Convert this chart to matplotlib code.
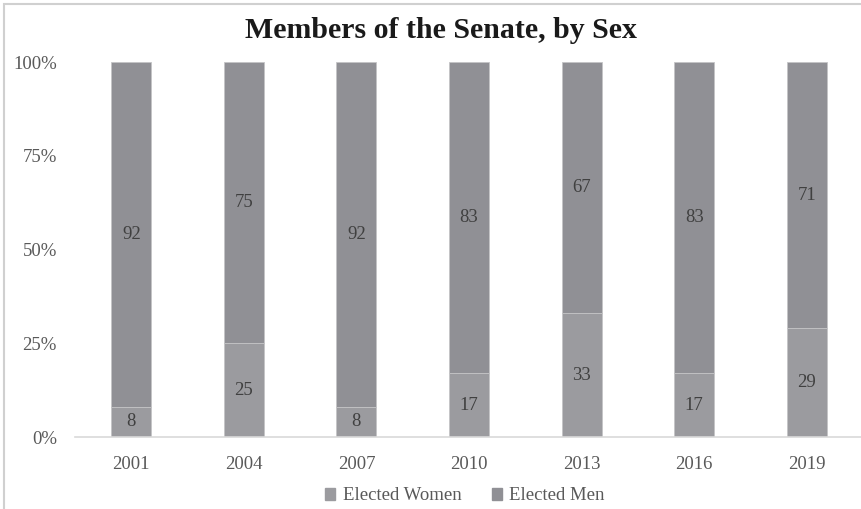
import matplotlib
matplotlib.use("Agg")
import matplotlib.pyplot as plt
from matplotlib.patches import Rectangle
import numpy as np

years = ["2001", "2004", "2007", "2010", "2013", "2016", "2019"]
women = [8, 25, 8, 17, 33, 17, 29]
men = [92, 75, 92, 83, 67, 83, 71]
yticks = [0, 25, 50, 75, 100]
ytick_labels = ["0%", "25%", "50%", "75%", "100%"]

c_women = "#9b9b9f"
c_men = "#909095"
txt = "#595959"

plt.rcParams['font.family'] = ['Liberation Serif', 'DejaVu Serif']

fig = plt.figure(figsize=(8.61, 5.09), dpi=100)
ax = fig.add_axes([75/861, 72/509, 788/861, 375/509])

x = np.arange(len(years))
w = 0.355
ax.bar(x, women, width=w, color=c_women, edgecolor="#c4c4c6", linewidth=0.6)
ax.bar(x, men, width=w, bottom=women, color=c_men, edgecolor="#c4c4c6", linewidth=0.6)

for i in range(len(years)):
    ax.text(x[i], women[i] / 2, str(women[i]), ha="center", va="center", fontsize=13.5, color="#404040")
    ax.text(x[i], women[i] + men[i] / 2, str(men[i]), ha="center", va="center", fontsize=13.5, color="#404040")

ax.set_xlim(-0.5, len(years) - 0.5)
ax.set_ylim(0, 100)
ax.set_yticks(yticks)
ax.set_yticklabels(ytick_labels)
ax.set_xticks(x)
ax.set_xticklabels(years)
ax.tick_params(axis="both", length=0, labelsize=13.5, colors=txt)
ax.tick_params(axis="y", pad=13)
ax.tick_params(axis="x", pad=14)
for s in ["top", "right", "left"]:
    ax.spines[s].set_visible(False)
ax.spines["bottom"].set_color("#d9d9d9")
ax.spines["bottom"].set_linewidth(1.2)

fig.text(441/861, 1 - 30/509, "Members of the Senate, by Sex", ha="center", va="center",
         fontsize=21.5, fontweight="bold", color="#1a1a1a")

handles = [Rectangle((0, 0), 1, 1, color=c_women), Rectangle((0, 0), 1, 1, color=c_men)]
fig.legend(handles, ["Elected Women", "Elected Men"], loc="center", bbox_to_anchor=(465/861, 1 - 496/509),
           ncol=2, frameon=False, fontsize=13.5, handlelength=0.55, handleheight=0.55, handletextpad=0.4,
           columnspacing=1.6, labelcolor=txt)

fig.patches.append(Rectangle((4/861, -0.1), 1.2, 1.1 - 4/509, transform=fig.transFigure,
                             fill=False, edgecolor="#d0d0d0", linewidth=1.5))

fig.savefig("out.png", dpi=100)
